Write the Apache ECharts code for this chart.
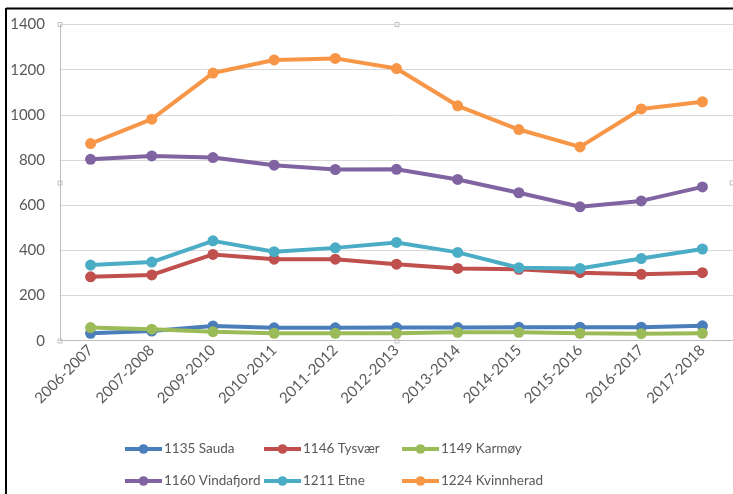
<!DOCTYPE html>
<html>
<head>
<meta charset="utf-8">
<script src="https://cdn.jsdelivr.net/npm/echarts@6/dist/echarts.min.js"></script>
<style>
html,body{margin:0;padding:0;background:#fff;}
#c{width:733px;height:494px;}
</style>
</head>
<body>
<div id="c"></div>
<script>
const categories = ['2006-2007','2007-2008','2009-2010','2010-2011','2011-2012','2012-2013','2013-2014','2014-2015','2015-2016','2016-2017','2017-2018'];
const sauda = [33, 43, 65, 57, 57, 58, 58, 60, 60, 60, 66];
const tysvaer = [283, 291, 382, 361, 361, 339, 320, 316, 301, 294, 301];
const karmoy = [58, 51, 40, 33, 33, 33, 37, 37, 33, 31, 33];
const vindafjord = [803, 818, 811, 777, 758, 759, 714, 655, 593, 619, 681];
const etne = [335, 348, 442, 394, 411, 435, 391, 323, 320, 364, 406];
const kvinnherad = [873, 981, 1185, 1243, 1250, 1205, 1040, 935, 858, 1026, 1058];
const seriesNames = ['1135 Sauda','1146 Tysvær','1149 Karmøy','1160 Vindafjord','1211 Etne','1224 Kvinnherad'];
const seriesData = [sauda, tysvaer, karmoy, vindafjord, etne, kvinnherad];
const colors = ['#4a7ebb','#c0504d','#9bbb59','#8064a2','#4bacc6','#f79646'];
const yTicks = {min: 0, max: 1400, interval: 200};

const FONT = 'Lato';
const TXT = '#595959';

const chart = echarts.init(document.getElementById('c'), null, {renderer: 'canvas'});

const legendPos = [
  {left: 123, top: 442}, {left: 262, top: 442}, {left: 400, top: 442},
  {left: 123, top: 474}, {left: 262, top: 474}, {left: 400, top: 474}
];
const legends = seriesNames.map((n, i) => ({
  data: [n],
  left: legendPos[i].left,
  top: legendPos[i].top,
  itemWidth: 37,
  itemHeight: 12,
  itemGap: 0,
  padding: 0,
  lineStyle: {width: 4},
  textStyle: {fontFamily: FONT, fontSize: 13.5, color: TXT, padding: [0,0,0,-3]}
}));

const handle = (x, y) => ({
  type: 'rect', shape: {x: x - 2, y: y - 2, width: 4, height: 4},
  style: {fill: '#fff', stroke: '#bfbfbf', lineWidth: 1}, silent: true
});

chart.setOption({
  animation: false,
  color: colors,
  grid: {left: 60, right: 0, top: 24.5, bottom: 153.3, containLabel: false},
  xAxis: {
    type: 'category',
    data: categories,
    boundaryGap: true,
    axisLine: {show: true, lineStyle: {color: '#bfbfbf', width: 1}},
    axisTick: {show: false},
    axisLabel: {rotate: 45, margin: 7, fontFamily: FONT, fontSize: 15, color: TXT, interval: 0}
  },
  yAxis: {
    type: 'value',
    min: yTicks.min, max: yTicks.max, interval: yTicks.interval,
    axisLine: {show: true, lineStyle: {color: '#bfbfbf', width: 1}},
    axisTick: {show: false},
    splitLine: {show: true, lineStyle: {color: '#d9d9d9', width: 1}},
    axisLabel: {margin: 15, fontFamily: FONT, fontSize: 15, color: TXT, formatter: v => String(v)}
  },
  legend: legends,
  series: seriesNames.map((n, i) => ({
    name: n,
    type: 'line',
    data: seriesData[i],
    symbol: 'circle',
    symbolSize: 11,
    lineStyle: {width: 4, color: colors[i]},
    itemStyle: {color: colors[i]},
    z: 2 + i
  })),
  graphic: [
    {type: 'line', shape: {x1: 6, y1: 8.5, x2: 733, y2: 8.5}, style: {stroke: '#000', lineWidth: 2}, silent: true},
    {type: 'line', shape: {x1: 6, y1: 8, x2: 6, y2: 494}, style: {stroke: '#000', lineWidth: 2}, silent: true},
    handle(60, 24.5), handle(397, 24.5), handle(60, 183), handle(732, 183), handle(60, 341), handle(397, 341)
  ]
});
</script>
</body>
</html>
